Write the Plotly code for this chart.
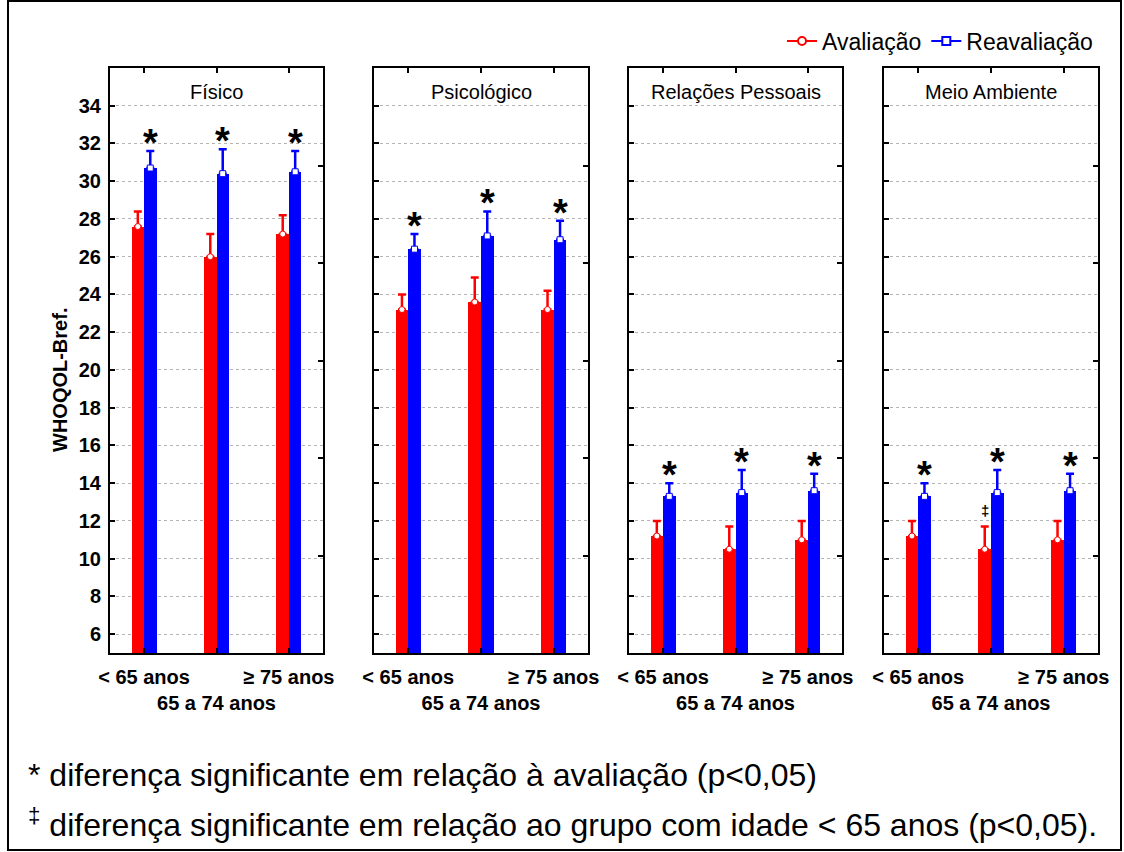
import plotly.graph_objects as go

# WHOQOL-Bref domain scores by age group, first assessment vs. reassessment
domains = ["Físico", "Psicológico", "Relações Pessoais", "Meio Ambiente"]
age_groups = ["< 65 anos", "<br>65 a 74 anos", "≥ 75 anos"]
y_ticks = [6, 8, 10, 12, 14, 16, 18, 20, 22, 24, 26, 28, 30, 32, 34]

aval_mean = {
    "Físico": [27.6, 26.0, 27.2],
    "Psicológico": [23.2, 23.6, 23.2],
    "Relações Pessoais": [11.2, 10.5, 11.0],
    "Meio Ambiente": [11.2, 10.5, 11.0],
}
aval_err = {
    "Físico": [0.8, 1.2, 1.0],
    "Psicológico": [0.8, 1.3, 1.0],
    "Relações Pessoais": [0.8, 1.2, 1.0],
    "Meio Ambiente": [0.8, 1.2, 1.0],
}
reav_mean = {
    "Físico": [30.7, 30.4, 30.5],
    "Psicológico": [26.4, 27.1, 26.9],
    "Relações Pessoais": [13.3, 13.5, 13.6],
    "Meio Ambiente": [13.3, 13.5, 13.6],
}
reav_err = {
    "Físico": [0.9, 1.3, 1.1],
    "Psicológico": [0.8, 1.3, 1.0],
    "Relações Pessoais": [0.7, 1.2, 0.9],
    "Meio Ambiente": [0.7, 1.2, 0.9],
}
# significance marks: "*" vs. first assessment, "‡" vs. the < 65 group
star_reav = {d: [True, True, True] for d in domains}
dagger_aval = {
    "Físico": [False, False, False],
    "Psicológico": [False, False, False],
    "Relações Pessoais": [False, False, False],
    "Meio Ambiente": [False, True, False],
}

RED = "#ff0000"
BLUE = "#0000ff"
FONT = "Liberation Sans, Arial, sans-serif"
Y_MIN, Y_MAX = 5, 36
X_RANGE = [-0.47, 2.47]
BAR_W = 0.172

W, H = 1124, 852
ML, MR, MT, MB = 110, 26, 68, 199
PW = W - ML - MR
PH = H - MT - MB


def px_x(p):
    return (p - ML) / PW


def px_y(p):
    return (H - MB - p) / PH


panel_px = [(110, 323), (374, 588), (629, 842), (884, 1098)]
domains_x = [[px_x(a), px_x(b)] for a, b in panel_px]

fig = go.Figure()
idx = list(range(len(age_groups)))

for k, d in enumerate(domains):
    xa = "x" if k == 0 else f"x{k + 1}"
    ya = "y" if k == 0 else f"y{k + 1}"
    fig.add_trace(go.Bar(x=idx, y=aval_mean[d], offset=-BAR_W, width=BAR_W,
                         marker=dict(color=RED, line=dict(width=0)),
                         xaxis=xa, yaxis=ya, showlegend=False, hoverinfo="skip"))
    fig.add_trace(go.Bar(x=idx, y=reav_mean[d], offset=0, width=BAR_W,
                         marker=dict(color=BLUE, line=dict(width=0)),
                         xaxis=xa, yaxis=ya, showlegend=False, hoverinfo="skip"))

for k, d in enumerate(domains):
    xa = "x" if k == 0 else f"x{k + 1}"
    ya = "y" if k == 0 else f"y{k + 1}"
    fig.add_trace(go.Scatter(
        x=[i - BAR_W / 2 for i in idx], y=aval_mean[d], mode="markers",
        marker=dict(symbol="circle", size=6, color="white", line=dict(color=RED, width=1)),
        error_y=dict(type="data", symmetric=False, array=aval_err[d],
                     arrayminus=[0] * len(idx), color=RED, thickness=2.5, width=4),
        xaxis=xa, yaxis=ya, showlegend=False, hoverinfo="skip"))
    fig.add_trace(go.Scatter(
        x=[i + BAR_W / 2 for i in idx], y=reav_mean[d], mode="markers",
        marker=dict(symbol="square", size=6, color="white", line=dict(color=BLUE, width=1)),
        error_y=dict(type="data", symmetric=False, array=reav_err[d],
                     arrayminus=[0] * len(idx), color=BLUE, thickness=2.5, width=4),
        xaxis=xa, yaxis=ya, showlegend=False, hoverinfo="skip"))

# legend entries
fig.add_trace(go.Scatter(x=[None], y=[None], mode="lines+markers", name="Avaliação",
                         line=dict(color=RED, width=2),
                         marker=dict(symbol="circle", size=8, color="white",
                                     line=dict(color=RED, width=2))))
fig.add_trace(go.Scatter(x=[None], y=[None], mode="lines+markers", name="Reavaliação",
                         line=dict(color=BLUE, width=2),
                         marker=dict(symbol="square", size=8, color="white",
                                     line=dict(color=BLUE, width=2))))

annotations = []
for k, d in enumerate(domains):
    xa = "x" if k == 0 else f"x{k + 1}"
    ya = "y" if k == 0 else f"y{k + 1}"
    for i in idx:
        if star_reav[d][i]:
            annotations.append(dict(
                x=i + BAR_W / 2, y=reav_mean[d][i] + reav_err[d][i], xref=xa, yref=ya,
                text="*", showarrow=False, yanchor="middle", yshift=8,
                font=dict(family=FONT, size=38, color="black", weight="bold")))
        if dagger_aval[d][i]:
            annotations.append(dict(
                x=i - BAR_W / 2, y=aval_mean[d][i] + aval_err[d][i], xref=xa, yref=ya,
                text="‡", showarrow=False, yanchor="middle", yshift=16,
                font=dict(family=FONT, size=15, color="black", weight="bold")))
    annotations.append(dict(
        x=0.5, y=px_y(92), xref=f"{xa} domain", yref="paper", text=d,
        showarrow=False, yanchor="middle",
        font=dict(family=FONT, size=20, color="black")))

annotations.append(dict(
    x=px_x(60), y=px_y(380), xref="paper", yref="paper", text="WHOQOL-Bref.",
    textangle=-90, showarrow=False, xanchor="center", yanchor="middle",
    font=dict(family=FONT, size=20, color="black", weight="bold")))

annotations.append(dict(
    x=px_x(26), y=px_y(775), xref="paper", yref="paper", xanchor="left", yanchor="middle",
    text="* diferença significante em relação à avaliação (p<0,05)", showarrow=False,
    font=dict(family=FONT, size=32, color="black")))
annotations.append(dict(
    x=px_x(26), y=px_y(823), xref="paper", yref="paper", xanchor="left", yanchor="middle",
    text="<sup>‡</sup> diferença significante em relação ao grupo com idade < 65 anos (p<0,05).",
    showarrow=False, font=dict(family=FONT, size=32, color="black")))

layout = dict(
    width=W, height=H,
    margin=dict(l=ML, r=MR, t=MT, b=MB, pad=0),
    paper_bgcolor="white", plot_bgcolor="white",
    font=dict(family=FONT, color="black"),
    bargap=0, barmode="overlay",
    showlegend=True,
    legend=dict(orientation="h", x=1, xanchor="right", y=px_y(41), yanchor="middle",
                font=dict(family=FONT, size=23, color="black"),
                bgcolor="rgba(0,0,0,0)", itemwidth=30),
    annotations=annotations,
    shapes=[dict(type="rect", xref="paper", yref="paper",
                 x0=px_x(8), x1=px_x(1121), y0=px_y(850), y1=px_y(1),
                 line=dict(color="black", width=2), fillcolor="rgba(0,0,0,0)", layer="below")],
)

right_ticks = [Y_MIN + j * (Y_MAX - Y_MIN) / 6 for j in range(1, 6)]

for k in range(len(domains)):
    sx = "" if k == 0 else str(k + 1)
    layout[f"xaxis{sx}"] = dict(
        domain=domains_x[k], anchor=f"y{sx}", range=X_RANGE,
        tickmode="array", tickvals=idx, ticktext=age_groups, tickangle=0,
        ticks="inside", ticklen=5, tickwidth=2, tickcolor="black",
        showline=True, linecolor="black", linewidth=2, mirror="ticks",
        showgrid=False, zeroline=False, ticklabelstandoff=5,
        tickfont=dict(family=FONT, size=20, color="black", weight="bold"))
    layout[f"yaxis{sx}"] = dict(
        domain=[0, 1], anchor=f"x{sx}", range=[Y_MIN, Y_MAX],
        tickmode="array", tickvals=y_ticks,
        ticks="inside", ticklen=5, tickwidth=2, tickcolor="black",
        showline=True, linecolor="black", linewidth=2, mirror=True,
        showgrid=True, gridcolor="#b4b4b4", gridwidth=1, griddash="dot",
        zeroline=False, showticklabels=(k == 0), ticklabelstandoff=3,
        tickfont=dict(family=FONT, size=20, color="black", weight="bold"))
    ry = str(len(domains) + k + 1)
    layout[f"yaxis{ry}"] = dict(
        overlaying="y" if k == 0 else f"y{k + 1}", anchor=f"x{sx}", side="right",
        range=[Y_MIN, Y_MAX], tickmode="array", tickvals=right_ticks,
        ticks="inside", ticklen=5, tickwidth=2, tickcolor="black",
        showticklabels=False, showgrid=False, zeroline=False, showline=False)

fig.update_layout(**layout)

# anchor a hidden trace on each right-side axis so it is drawn
for k in range(len(domains)):
    sx = "" if k == 0 else str(k + 1)
    ry = str(len(domains) + k + 1)
    fig.add_trace(go.Scatter(x=[None], y=[None], xaxis=f"x{sx}", yaxis=f"y{ry}",
                             showlegend=False, hoverinfo="skip"))

fig.write_html("out.html")
